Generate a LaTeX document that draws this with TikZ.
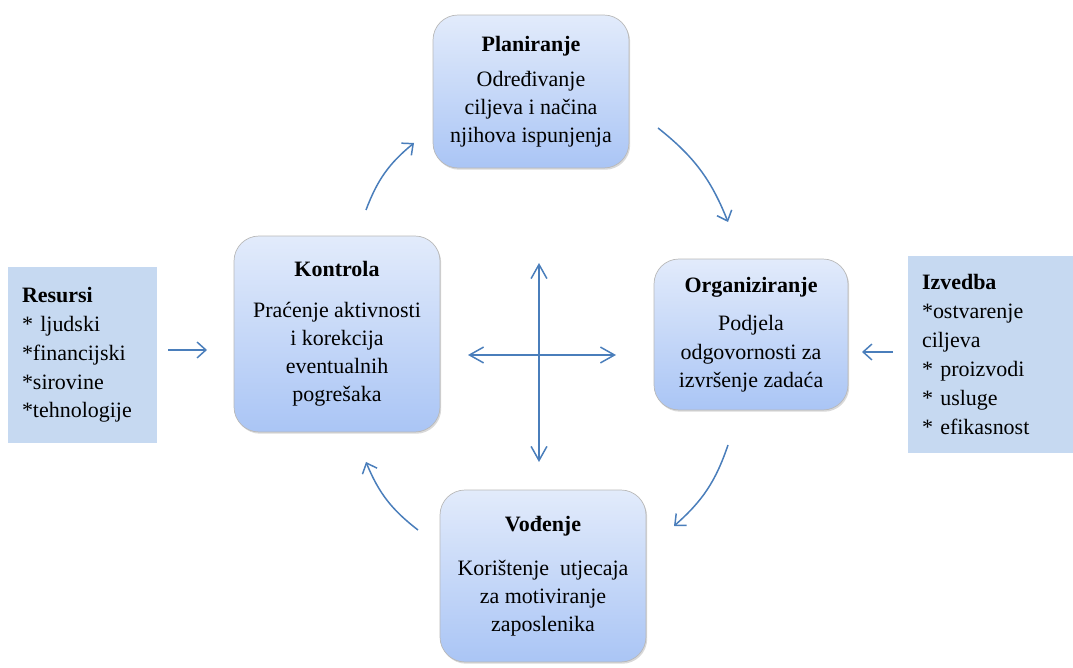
\documentclass[tikz,border=0pt]{standalone}
\usepackage{fontspec}
\setmainfont{Liberation Serif}
\usetikzlibrary{arrows.meta,shadows}

\definecolor{pfeilblau}{RGB}{74,126,187}
\definecolor{kastenblau}{RGB}{198,217,241}
\definecolor{phaseoben}{RGB}{226,235,251}
\definecolor{phaseunten}{RGB}{170,197,245}

\begin{document}
\begin{tikzpicture}[x=0.02cm, y=-0.02cm,
    phase/.style={draw=gray!55, rounded corners=0.5cm, top color=phaseoben,
      bottom color=phaseunten, align=center, font=\fontsize{12.5}{16}\selectfont,
      drop shadow={shadow xshift=0.7pt, shadow yshift=-1pt, opacity=0.3}},
    seite/.style={fill=kastenblau, align=left, inner xsep=0.28cm,
      font=\fontsize{12.5}{16.4}\selectfont},
    zyklus/.style={draw=pfeilblau, line width=0.85pt,
      -{Straight Barb[length=5pt,width=9pt]}},
    kreuz/.style={draw=pfeilblau, line width=0.85pt,
      {Straight Barb[length=8pt,width=9pt]}-{Straight Barb[length=8pt,width=9pt]}}]

    % 枠
    \useasboundingbox (0,0) rectangle (1073,668);

    % 四つの段階
    \node[phase, minimum width=3.92cm, minimum height=3.06cm] (plan) at (531,91.5)
        {\textbf{Planiranje}\\[4pt] Određivanje\\ciljeva i načina\\njihova ispunjenja};
    \node[phase, minimum width=4.12cm, minimum height=3.92cm] (kontrola) at (337,334)
        {\textbf{Kontrola}\\[7pt] Praćenje aktivnosti\\i korekcija\\eventualnih\\pogrešaka};
    \node[phase, minimum width=3.88cm, minimum height=3.02cm] (org) at (751,334.5)
        {\textbf{Organiziranje}\\[6pt] Podjela\\odgovornosti za\\izvršenje zadaća};
    \node[phase, minimum width=4.12cm, minimum height=3.44cm] (vod) at (543,576)
        {\textbf{Vođenje}\\[9pt] Korištenje \ utjecaja\\za motiviranje\\zaposlenika};

    % 入力と出力
    \node[seite, text width=2.42cm, minimum height=3.52cm] (resursi) at (82.5,355)
        {\textbf{Resursi}\\{*} ljudski\\{*}financijski\\{*}sirovine\\{*}tehnologije};
    \node[seite, text width=2.74cm, minimum height=3.94cm] (izvedba) at (990.5,354.5)
        {\textbf{Izvedba}\\{*}ostvarenje\\ciljeva\\{*} proizvodi\\{*} usluge\\{*} efikasnost};

    % 矢印の端点
    \coordinate (k1) at (366,210);
    \coordinate (p0) at (414,143);
    \coordinate (p1) at (658,128);
    \coordinate (o0) at (728,222);
    \coordinate (o1) at (728,445);
    \coordinate (v0) at (674,526);
    \coordinate (v1) at (418,530);
    \coordinate (k0) at (366,462);
    \coordinate (r0) at (168,350);
    \coordinate (r1) at (207,350);
    \coordinate (i0) at (893,352);
    \coordinate (i1) at (862,352);
    \coordinate (kreuzO) at (539,263);
    \coordinate (kreuzU) at (539,462);
    \coordinate (kreuzL) at (468,355);
    \coordinate (kreuzR) at (616,355);

    % 循環の矢印
    \draw[zyklus] (k1) to[bend left=15] (p0);
    \draw[zyklus] (p1) to[bend left=15] (o0);
    \draw[zyklus] (o1) to[bend left=15] (v0);
    \draw[zyklus] (v1) to[bend left=15] (k0);

    % 直線の矢印
    \draw[zyklus] (r0) -- (r1);
    \draw[zyklus] (i0) -- (i1);
    \draw[kreuz] (kreuzU) -- (kreuzO);
    \draw[kreuz] (kreuzL) -- (kreuzR);

\end{tikzpicture}
\end{document}
